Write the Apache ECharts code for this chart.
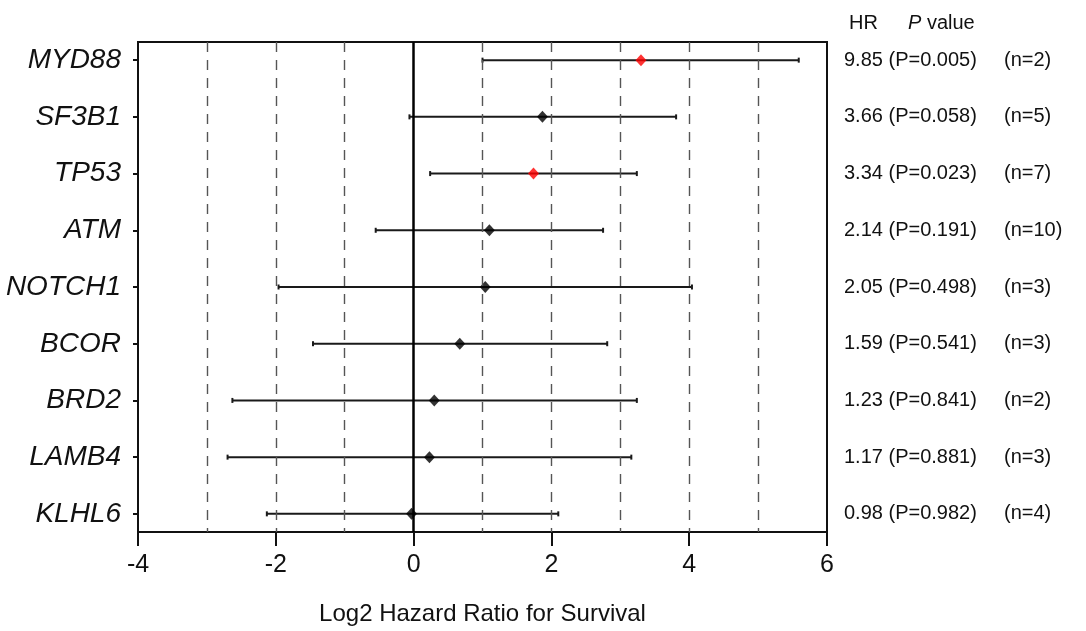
<!DOCTYPE html>
<html>
<head>
<meta charset="utf-8">
<style>
  html, body { margin: 0; padding: 0; background: #fff; }
  #forest { width: 1086px; height: 631px; }
</style>
<script src="https://cdn.jsdelivr.net/npm/echarts@6/dist/echarts.min.js"></script>
</head>
<body>
<div id="forest"></div>
<script>
// genes top to bottom
var genes = ['MYD88', 'SF3B1', 'TP53', 'ATM', 'NOTCH1', 'BCOR', 'BRD2', 'LAMB4', 'KLHL6'];
var hrText = ['9.85', '3.66', '3.34', '2.14', '2.05', '1.59', '1.23', '1.17', '0.98'];
var pText = ['0.005', '0.058', '0.023', '0.191', '0.498', '0.541', '0.841', '0.881', '0.982'];
var nCounts = [2, 5, 7, 10, 3, 3, 2, 3, 4];
// log2 hazard ratio and 95% CI
var log2HR = [3.30, 1.87, 1.74, 1.10, 1.04, 0.67, 0.30, 0.23, -0.03];
var ciLow = [1.00, -0.06, 0.24, -0.55, -1.96, -1.46, -2.63, -2.70, -2.13];
var ciHigh = [5.59, 3.81, 3.24, 2.75, 4.04, 2.81, 3.24, 3.16, 2.10];
var xTicks = [-4, -2, 0, 2, 4, 6];
var dashLines = [-3, -2, -1, 1, 2, 3, 4, 5];

var rows = genes.map(function (g, i) { return i; });
var FONT = '"Liberation Sans", Arial, sans-serif';

var ciData = rows.map(function (i) { return [ciLow[i], ciHigh[i], i]; });
var pointData = rows.map(function (i) {
  return {
    value: [log2HR[i], i],
    itemStyle: { color: parseFloat(pText[i]) < 0.05 ? '#ff0000' : '#000' }
  };
});

var chart = echarts.init(document.getElementById('forest'));
chart.setOption({
  animation: false,
  title: {
    left: 844,
    top: 8,
    text: '{a|HR}{b|P}{c| value}',
    textStyle: {
      fontWeight: 'normal',
      rich: {
        a: { fontFamily: FONT, fontSize: 20, fontWeight: 'normal', color: '#111', width: 59 },
        b: { fontFamily: FONT, fontSize: 20, fontWeight: 'normal', color: '#111', fontStyle: 'italic' },
        c: { fontFamily: FONT, fontSize: 20, fontWeight: 'normal', color: '#111' }
      }
    }
  },
  grid: {
    left: 138, right: 259, top: 42, bottom: 96,
    show: true, borderColor: '#111', borderWidth: 2
  },
  xAxis: {
    type: 'value', min: -4, max: 6, interval: 2,
    name: 'Log2 Hazard Ratio for Survival',
    nameLocation: 'middle', nameGap: 70,
    nameTextStyle: { fontFamily: FONT, fontSize: 24, color: '#111' },
    axisLine: { show: true, onZero: false, lineStyle: { color: '#111', width: 2 } },
    axisTick: { show: true, inside: false, length: 14, lineStyle: { color: '#111', width: 2 } },
    axisLabel: { margin: 21, fontFamily: FONT, fontSize: 25, color: '#111' },
    splitLine: { show: false }
  },
  yAxis: [{
    type: 'value', inverse: true, min: -0.32, max: 8.32, position: 'left',
    axisLine: { show: true, onZero: false, lineStyle: { color: '#111', width: 2 } },
    axisTick: { show: true, length: 5, customValues: rows, lineStyle: { color: '#111', width: 2 } },
    axisLabel: {
      customValues: rows, margin: 17,
      fontFamily: FONT, fontSize: 28, fontStyle: 'italic', color: '#111',
      formatter: function (v) { return genes[Math.round(v)]; }
    },
    splitLine: { show: false }
  }, {
    type: 'value', inverse: true, min: -0.32, max: 8.32, position: 'right',
    axisLine: { show: false, onZero: false },
    axisTick: { show: false },
    axisLabel: {
      customValues: rows, margin: 17,
      formatter: function (v) {
        var i = Math.round(v);
        return '{a|' + hrText[i] + ' (P=' + pText[i] + ')}{b|(n=' + nCounts[i] + ')}';
      },
      rich: {
        a: { fontFamily: FONT, fontSize: 20, color: '#111', width: 160 },
        b: { fontFamily: FONT, fontSize: 20, color: '#111' }
      }
    },
    splitLine: { show: false }
  }],
  series: [{
    // reference lines
    type: 'scatter', data: [], silent: true,
    markLine: {
      silent: true, symbol: 'none', label: { show: false },
      animation: false,
      data: dashLines.map(function (v) {
        return { xAxis: v, lineStyle: { color: '#555', width: 1.4, type: [10, 8] } };
      }).concat([{ xAxis: 0, lineStyle: { color: '#000', width: 2.5, type: 'solid' } }])
    }
  }, {
    type: 'custom', data: ciData, silent: true,
    encode: { x: [0, 1], y: 2 },
    renderItem: function (params, api) {
      var a = api.coord([api.value(0), api.value(2)]);
      var b = api.coord([api.value(1), api.value(2)]);
      var s = { stroke: '#1a1a1a', lineWidth: 2 };
      return {
        type: 'group',
        children: [
          { type: 'line', shape: { x1: a[0], y1: a[1], x2: b[0], y2: b[1] }, style: s },
          { type: 'line', shape: { x1: a[0], y1: a[1] - 2.5, x2: a[0], y2: a[1] + 2.5 }, style: s },
          { type: 'line', shape: { x1: b[0], y1: b[1] - 2.5, x2: b[0], y2: b[1] + 2.5 }, style: s }
        ]
      };
    },
    z: 3
  }, {
    type: 'scatter', data: pointData, symbol: 'diamond', symbolSize: [11, 12],
    silent: true, z: 4
  }]
});
</script>
</body>
</html>
